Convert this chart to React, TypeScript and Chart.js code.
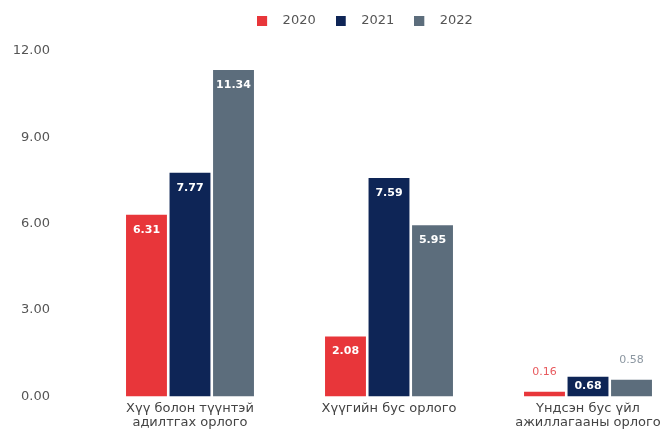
import React, { useEffect, useRef } from "react";
import { Chart, registerables } from "chart.js";

Chart.register(...registerables);

const categories: string[][] = [
  ["Хүү болон түүнтэй", "адилтгах орлого"],
  ["Хүүгийн бус орлого"],
  ["Үндсэн бус үйл", "ажиллагааны орлого"],
];
const seriesNames = ["2020", "2021", "2022"];
const values2020 = [6.31, 2.08, 0.16];
const values2021 = [7.77, 7.59, 0.68];
const values2022 = [11.34, 5.95, 0.58];
const seriesValues = [values2020, values2021, values2022];
const yMin = 0;
const yMax = 12;
const yStep = 3;

const barColors = ["#e8363a", "#0e2556", "#5c6d7c"];
const outsideLabelColors = ["#e85a5e", "#0e2556", "#8c97a1"];
const FONT = "'DejaVu Sans', 'Liberation Sans', sans-serif";

function legendIcon(color: string): HTMLCanvasElement {
  const c = document.createElement("canvas");
  c.width = 19;
  c.height = 10;
  const g = c.getContext("2d");
  if (g) {
    g.fillStyle = color;
    g.fillRect(0, 0, 10, 10);
  }
  return c;
}

const valueLabels = {
  id: "valueLabels",
  afterDatasetsDraw(chart: any) {
    const ctx = chart.ctx;
    chart.data.datasets.forEach((_ds: any, di: number) => {
      const meta = chart.getDatasetMeta(di);
      meta.data.forEach((bar: any, i: number) => {
        const v = seriesValues[di][i];
        const { x, y, base } = bar.getProps(["x", "y", "base"], true);
        const h = base - y;
        ctx.save();
        ctx.textAlign = "center";
        ctx.textBaseline = "middle";
        if (h >= 18) {
          ctx.font = `bold 11px ${FONT}`;
          ctx.fillStyle = "#ffffff";
          ctx.fillText(v.toFixed(2), x, y + Math.min(15, h / 2));
        } else {
          ctx.font = `11px ${FONT}`;
          ctx.fillStyle = outsideLabelColors[di];
          ctx.fillText(v.toFixed(2), x, y - 20);
        }
        ctx.restore();
      });
    });
  },
};

const legendShift = {
  id: "legendShift",
  afterLayout(chart: any) {
    const l = chart.legend;
    if (l) {
      l.left += 37;
      l.right += 37;
      l.top -= 14;
      l.bottom -= 14;
    }
  },
};

export default function App() {
  const canvasRef = useRef<HTMLCanvasElement | null>(null);

  useEffect(() => {
    document.body.style.margin = "0";
    const canvas = canvasRef.current;
    if (!canvas) return;
    const icons = barColors.map((c) => legendIcon(c));
    const chart = new Chart(canvas, {
      type: "bar",
      data: {
        datasets: seriesNames.map((name, di) => ({
          label: name,
          data: seriesValues[di].map((v, i) => ({ x: i, y: v })),
          backgroundColor: barColors[di],
          borderWidth: 0,
          categoryPercentage: 0.656,
          barPercentage: 0.94,
          pointStyle: icons[di],
        })),
      },
      options: {
        animation: false,
        responsive: true,
        maintainAspectRatio: false,
        layout: { padding: { left: 0, right: 4, top: 8, bottom: 1 } },
        plugins: {
          legend: {
            position: "top",
            labels: {
              usePointStyle: true,
              pointStyleWidth: 19,
              boxHeight: 10,
              padding: 20,
              color: "#555555",
              font: { family: FONT, size: 13 },
            },
          },
          tooltip: { enabled: false },
        },
        scales: {
          x: {
            type: "linear",
            offset: false,
            min: -0.7035,
            max: 2.3417,
            grid: { display: false, drawTicks: false },
            border: { display: false },
            afterFit: (scale: any) => {
              scale.paddingLeft = 0;
              scale.paddingRight = 0;
            },
            ticks: {
              stepSize: 1,
              includeBounds: false,
              autoSkip: false,
              maxRotation: 0,
              padding: 5,
              color: "#444444",
              font: { family: FONT, size: 13, lineHeight: 1.1 },
              callback: (value: any) => {
                const idx = Number(value);
                return Number.isInteger(idx) && categories[idx] ? categories[idx] : "";
              },
            },
          },
          y: {
            min: yMin,
            max: yMax,
            grid: { display: false, drawTicks: false },
            border: { display: false },
            afterFit: (scale: any) => {
              scale.width = 50;
            },
            ticks: {
              stepSize: yStep,
              padding: 0,
              color: "#555555",
              font: { family: FONT, size: 13 },
              callback: (value: any) => Number(value).toFixed(2),
            },
          },
        },
      },
      plugins: [valueLabels, legendShift],
    });
    return () => chart.destroy();
  }, []);

  return (
    <div style={{ position: "relative", width: 660, height: 436 }}>
      <canvas ref={canvasRef} />
    </div>
  );
}
